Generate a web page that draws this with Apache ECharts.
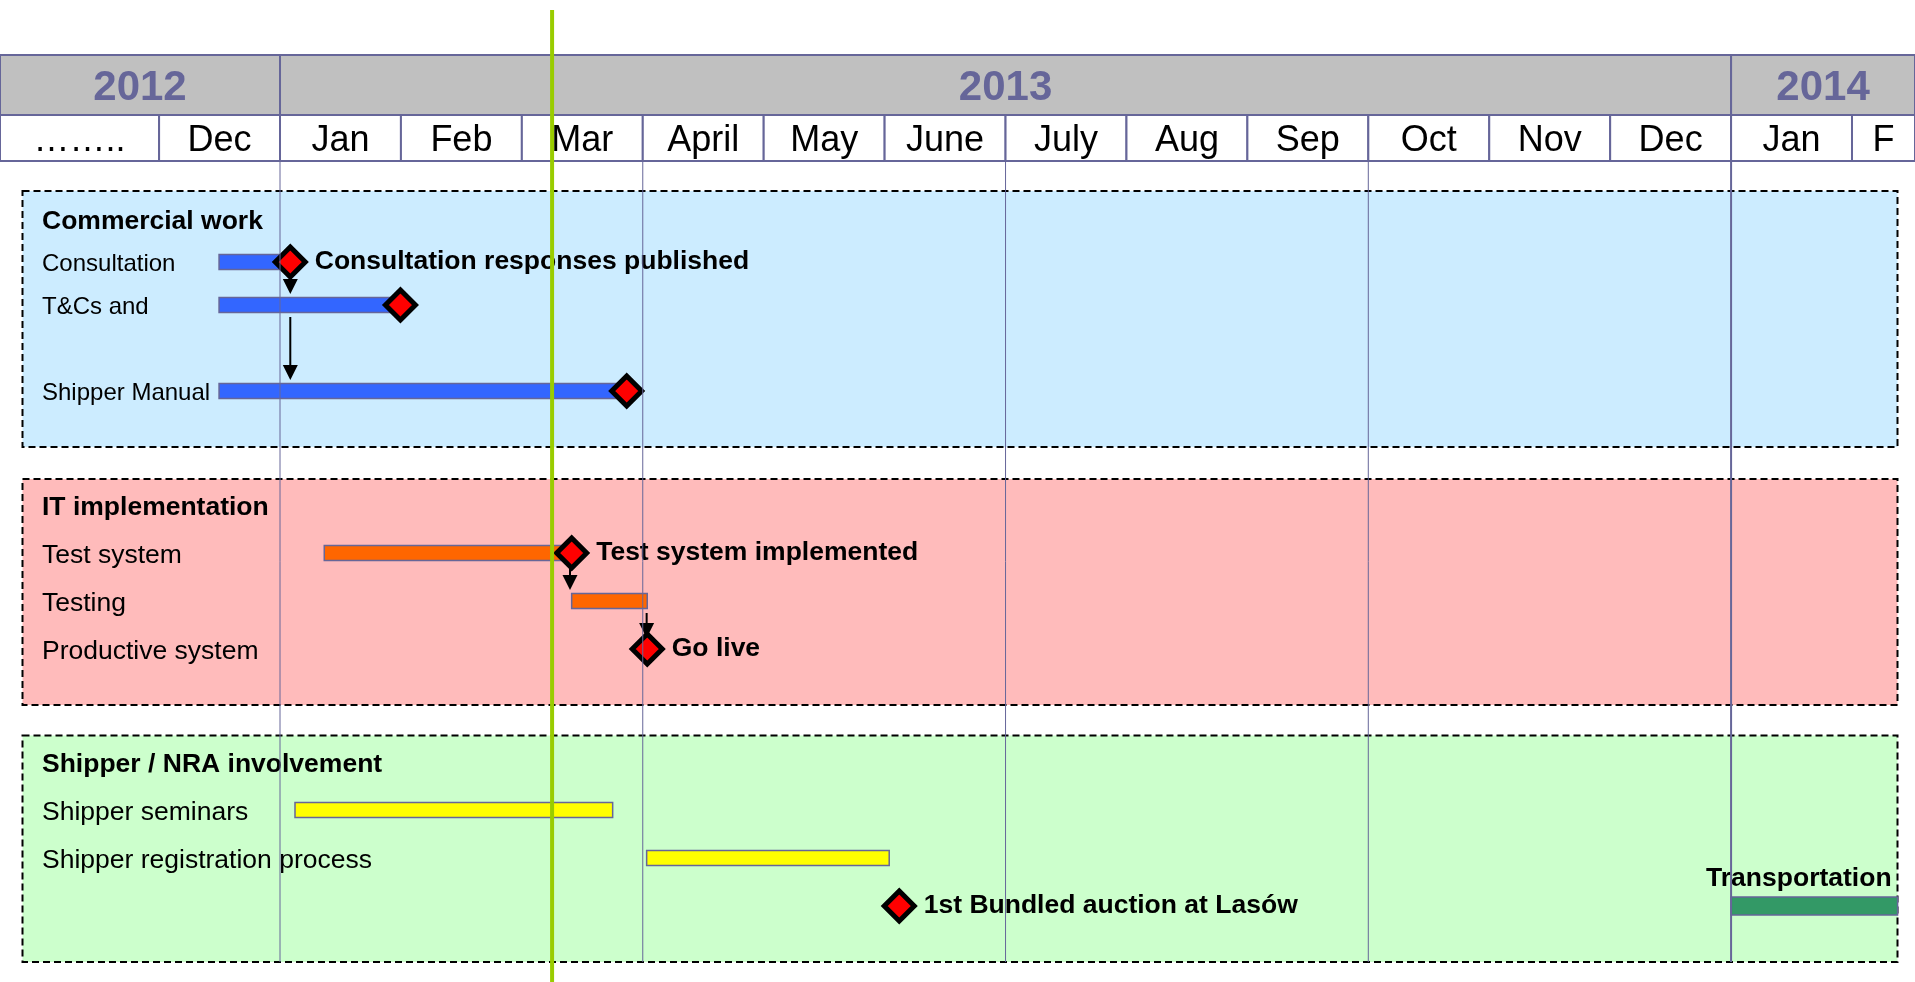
<!DOCTYPE html>
<html><head><meta charset="utf-8">
<script src="https://cdn.jsdelivr.net/npm/echarts@6/dist/echarts.min.js"></script>
<style>html,body{margin:0;padding:0;background:#fff;}#c{width:1915px;height:982px;}</style>
</head><body><div id="c"></div>
<script>
// Timeline unit = months, 0 = start of January 2013
const timelineStart = -2.3156;
const timelineEnd = 13.521;

const yearLabels = ['2012', '2013', '2014'];
const yearStarts = [timelineStart, 0, 12];
const yearEnds = [0, 12, timelineEnd];

const monthLabels = ['……..', 'Dec', 'Jan', 'Feb', 'Mar', 'April', 'May', 'June', 'July', 'Aug', 'Sep', 'Oct', 'Nov', 'Dec', 'Jan', 'F'];
const monthStarts = [timelineStart, -1, 0, 1, 2, 3, 4, 5, 6, 7, 8, 9, 10, 11, 12, 13];
const monthEnds = [-1, 0, 1, 2, 3, 4, 5, 6, 7, 8, 9, 10, 11, 12, 13, timelineEnd];

const quarterLines = [0, 3, 6, 9, 12];
const todayLine = 2.25;

const sectionTitles = ['Commercial work', 'IT implementation', 'Shipper / NRA involvement'];

// Panel 1: Commercial work
const rows1 = ['Commercial work', 'Consultation', 'T&Cs and', '', 'Shipper Manual'];
const tasks1Row = [1, 2, 4];
const tasks1Start = [-0.504, -0.504, -0.504];
const tasks1End = [0.085, 0.996, 2.867];
const miles1X = [0.085, 0.996, 2.867];
const miles1Row = [1, 2, 4];
const miles1Label = ['Consultation responses published', '', ''];
const arrows1X = [0.085, 0.085];
const arrows1From = [1, 2];
const arrows1To = [2, 4];

// Panel 2: IT implementation
const rows2 = ['IT implementation', 'Test system', 'Testing', 'Productive system'];
const tasks2Row = [1, 2];
const tasks2Start = [0.366, 2.412];
const tasks2End = [2.412, 3.037];
const miles2X = [2.412, 3.037];
const miles2Row = [1, 3];
const miles2Label = ['Test system implemented', 'Go live'];
const arrows2X = [2.398, 3.032];
const arrows2From = [1, 2];
const arrows2To = [2, 3];

// Panel 3: Shipper / NRA involvement
const rows3 = ['Shipper / NRA involvement', 'Shipper seminars', 'Shipper registration process', ''];
const tasks3Row = [1, 2];
const tasks3Start = [0.124, 3.032];
const tasks3End = [2.751, 5.038];
const miles3X = [5.121];
const miles3Row = [3];
const miles3Label = ['1st Bundled auction at Lasów'];
const transportLabel = ['Transportation'];
const transportStart = [12.0];
const transportEnd = [13.377];
const transportRow = [3];

const FONT = '"Liberation Sans", Arial, Helvetica, sans-serif';
const BORDER = '#666699';

const chart = echarts.init(document.getElementById('c'), null, {renderer: 'canvas'});

const grids = [
  {left: 0, right: 0, top: 55, height: 60},      // 0 year row
  {left: 0, right: 0, top: 115, height: 46},     // 1 month row
  {left: 0, right: 0, top: 197.5, height: 215},  // 2 panel 1
  {left: 0, right: 0, top: 481, height: 192},    // 3 panel 2
  {left: 0, right: 0, top: 738, height: 192},    // 4 panel 3
  {left: 0, right: 0, top: 161, height: 801},    // 5 quarter lines
  {left: 0, right: 0, top: 10, height: 972}      // 6 today line
];
const xAxes = grids.map((g, i) => ({type: 'value', gridIndex: i, min: timelineStart, max: timelineEnd, show: false}));

function catAxis(gi, rows, fs) {
  return {
    type: 'category', gridIndex: gi, data: rows, inverse: true, z: 3,
    axisLine: {show: false}, axisTick: {show: false}, splitLine: {show: false},
    axisLabel: {
      inside: true, margin: 42, interval: 0, color: '#000', padding: [5, 0, 0, 0],
      formatter: v => sectionTitles.indexOf(v) >= 0 ? '{h|' + v + '}' : '{n|' + v + '}',
      rich: {
        h: {fontFamily: FONT, fontWeight: 'bold', fontSize: 26.5, color: '#000'},
        n: {fontFamily: FONT, fontSize: fs, color: '#000'}
      }
    }
  };
}
const valAxis = gi => ({type: 'value', gridIndex: gi, min: 0, max: 1, inverse: true, show: false});
const yAxes = [valAxis(0), valAxis(1), catAxis(2, rows1, 24), catAxis(3, rows2, 26.5), catAxis(4, rows3, 26.5), valAxis(5), valAxis(6)];

function headerSeries(gi, labels, starts, ends, fill, textStyle) {
  return {
    type: 'custom', xAxisIndex: gi, yAxisIndex: gi, z: 3, silent: true,
    data: labels.map((l, i) => [starts[i], ends[i]]),
    renderItem: (params, api) => {
      const a = api.coord([api.value(0), 0]);
      const b = api.coord([api.value(1), 1]);
      return {
        type: 'group', children: [
          {type: 'rect', shape: {x: a[0], y: a[1], width: b[0] - a[0], height: b[1] - a[1]},
           style: {fill: fill, stroke: BORDER, lineWidth: 2}},
          {type: 'text', x: (a[0] + b[0]) / 2, y: (a[1] + b[1]) / 2 + 3,
           style: Object.assign({text: labels[params.dataIndex], align: 'center', verticalAlign: 'middle', fontFamily: FONT}, textStyle)}
        ]
      };
    }
  };
}

function barSeries(gi, rows, starts, ends, color, h) {
  return {
    type: 'custom', xAxisIndex: gi, yAxisIndex: gi, z: 2, silent: true,
    data: rows.map((r, i) => [starts[i], ends[i], r]),
    renderItem: (params, api) => {
      const a = api.coord([api.value(0), api.value(2)]);
      const b = api.coord([api.value(1), api.value(2)]);
      return {type: 'rect', shape: {x: a[0], y: a[1] - h / 2, width: b[0] - a[0], height: h},
              style: {fill: color, stroke: BORDER, lineWidth: 1.5}};
    }
  };
}

function mileSeries(gi, xs, rows, labels) {
  return {
    type: 'scatter', xAxisIndex: gi, yAxisIndex: gi, z: 5, silent: true,
    symbol: 'diamond', symbolSize: 30,
    itemStyle: {color: '#ff0000', borderColor: '#000', borderWidth: 5, opacity: 1},
    label: {show: true, position: 'right', distance: 7, formatter: p => p.name, padding: [7, 0, 0, 0],
            fontFamily: FONT, fontWeight: 'bold', fontSize: 26.5, color: '#000'},
    data: xs.map((x, i) => ({value: [x, rows[i]], name: labels[i]}))
  };
}

function arrowSeries(gi, xs, from, to) {
  return {
    type: 'custom', xAxisIndex: gi, yAxisIndex: gi, z: 6, silent: true,
    data: xs.map((x, i) => [x, from[i], to[i]]),
    renderItem: (params, api) => {
      const p1 = api.coord([api.value(0), api.value(1)]);
      const p2 = api.coord([api.value(0), api.value(2)]);
      const x = p1[0], y1 = p1[1] + 12, y2 = p2[1] - 11;
      return {type: 'group', children: [
        {type: 'line', shape: {x1: x, y1: y1, x2: x, y2: y2 - 12}, style: {stroke: '#000', lineWidth: 2}},
        {type: 'polygon', shape: {points: [[x - 7.5, y2 - 15], [x + 7.5, y2 - 15], [x, y2]]}, style: {fill: '#000'}}
      ]};
    }
  };
}

const transportSeries = {
  type: 'custom', xAxisIndex: 4, yAxisIndex: 4, z: 4, silent: true,
  data: transportRow.map((r, i) => [transportStart[i], transportEnd[i], r]),
  renderItem: (params, api) => {
    const a = api.coord([api.value(0), api.value(2)]);
    const b = api.coord([api.value(1), api.value(2)]);
    return {type: 'group', children: [
      {type: 'rect', shape: {x: a[0], y: a[1] - 9, width: b[0] - a[0], height: 18},
       style: {fill: '#339966', stroke: BORDER, lineWidth: 1.5}},
      {type: 'text', x: b[0] - 6, y: a[1] - 27,
       style: {text: transportLabel[params.dataIndex], align: 'right', verticalAlign: 'middle',
               fontFamily: FONT, fontWeight: 'bold', fontSize: 26.5, fill: '#000'}}
    ]};
  }
};

const quarterSeries = {
  type: 'custom', xAxisIndex: 5, yAxisIndex: 5, z: 8, silent: true,
  data: quarterLines.map(q => [q]),
  renderItem: (params, api) => {
    const a = api.coord([api.value(0), 0]);
    const b = api.coord([api.value(0), 1]);
    const lw = api.value(0) >= 12 ? 2 : 1;
    return {type: 'line', shape: {x1: a[0], y1: a[1], x2: b[0], y2: b[1]}, style: {stroke: BORDER, lineWidth: lw}};
  }
};

const todaySeries = {
  type: 'custom', xAxisIndex: 6, yAxisIndex: 6, z: 10, silent: true,
  data: [[todayLine]],
  renderItem: (params, api) => {
    const a = api.coord([api.value(0), 0]);
    const b = api.coord([api.value(0), 1]);
    return {type: 'line', shape: {x1: a[0], y1: a[1], x2: b[0], y2: b[1]}, style: {stroke: '#99cc00', lineWidth: 4}};
  }
};

const panelBoxes = [
  {y0: 191, y1: 447, fill: '#ccecff'},
  {y0: 479, y1: 705, fill: '#ffbbbb'},
  {y0: 735.5, y1: 962, fill: '#ccffcc'}
];

chart.setOption({
  animation: false,
  backgroundColor: '#ffffff',
  grid: grids,
  xAxis: xAxes,
  yAxis: yAxes,
  graphic: {elements: panelBoxes.map(p => ({
    type: 'rect', z: 0, silent: true,
    shape: {x: 22.5, y: p.y0, width: 1875, height: p.y1 - p.y0},
    style: {fill: p.fill, stroke: '#000', lineWidth: 2, lineDash: [7, 4]}
  }))},
  series: [
    headerSeries(0, yearLabels, yearStarts, yearEnds, '#c0c0c0', {fontSize: 42, fontWeight: 'bold', fill: BORDER}),
    headerSeries(1, monthLabels, monthStarts, monthEnds, '#ffffff', {fontSize: 36, fill: '#000'}),
    barSeries(2, tasks1Row, tasks1Start, tasks1End, '#3366ff', 15),
    barSeries(3, tasks2Row, tasks2Start, tasks2End, '#ff6600', 15),
    barSeries(4, tasks3Row, tasks3Start, tasks3End, '#ffff00', 15),
    arrowSeries(2, arrows1X, arrows1From, arrows1To),
    arrowSeries(3, arrows2X, arrows2From, arrows2To),
    mileSeries(2, miles1X, miles1Row, miles1Label),
    mileSeries(3, miles2X, miles2Row, miles2Label),
    mileSeries(4, miles3X, miles3Row, miles3Label),
    transportSeries,
    quarterSeries,
    todaySeries
  ]
});
</script>
</body></html>
